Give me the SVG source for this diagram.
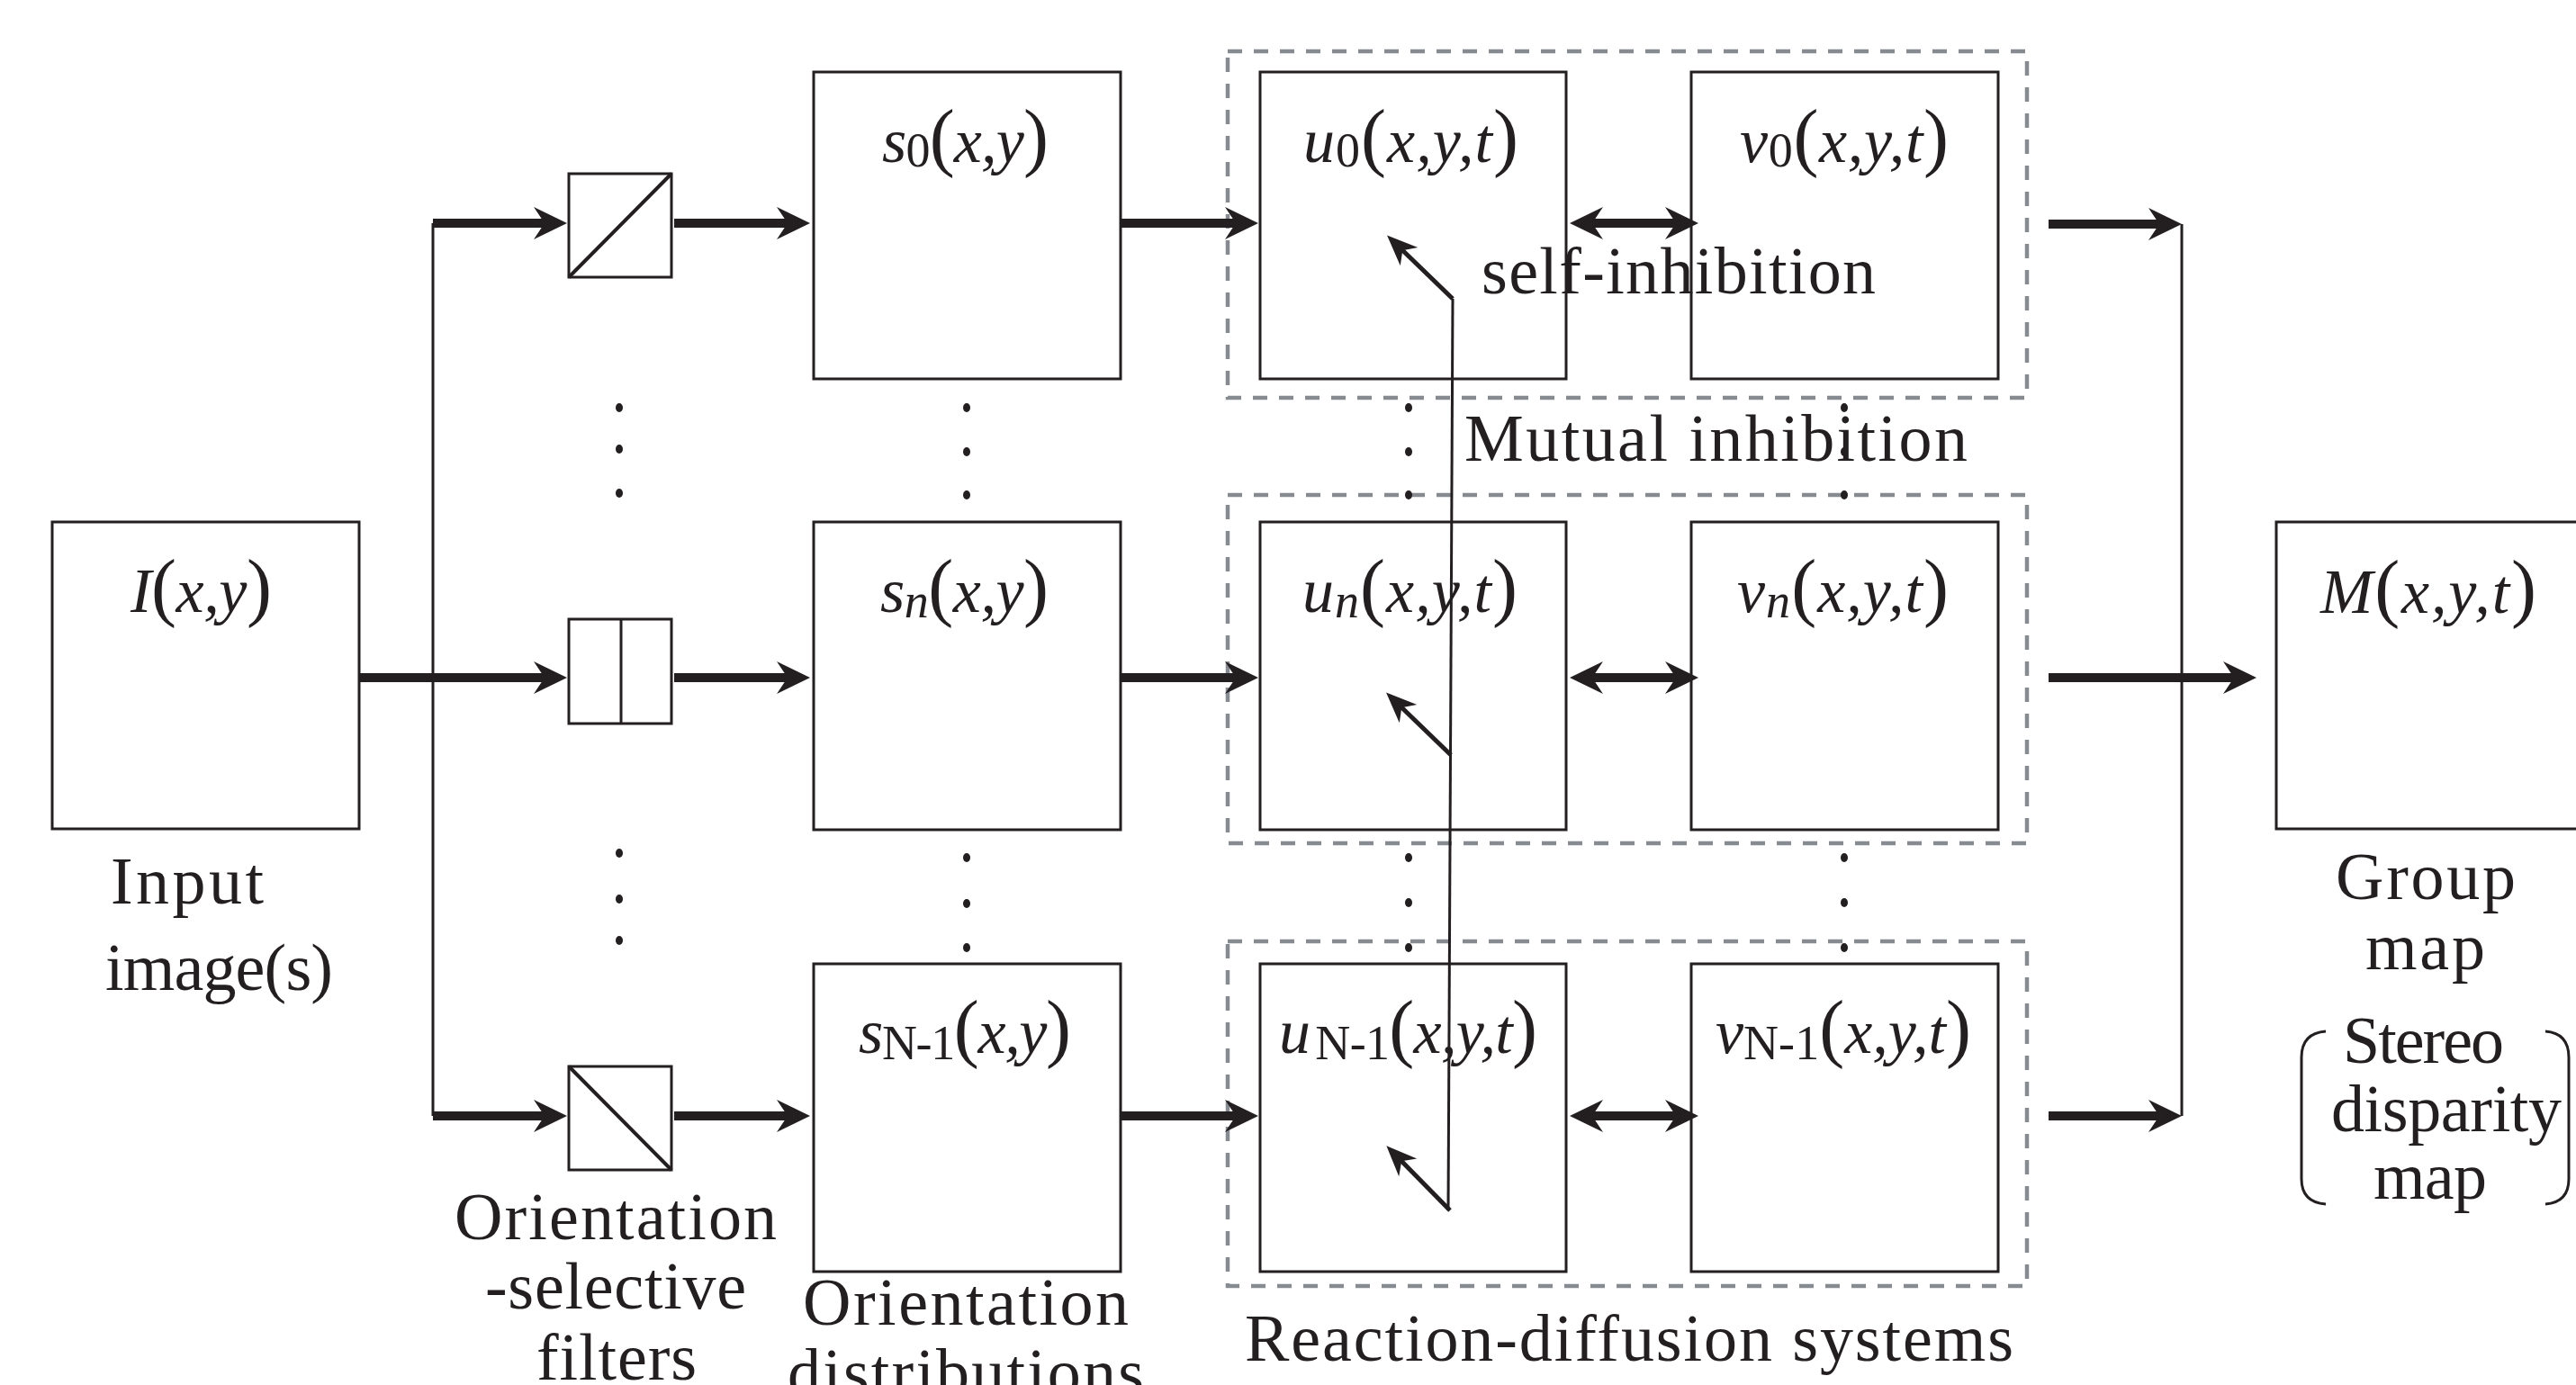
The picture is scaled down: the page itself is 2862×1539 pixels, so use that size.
<svg xmlns="http://www.w3.org/2000/svg" width="2862" height="1539" viewBox="0 0 2862 1539">
<style>
.box{fill:#fff;stroke:#231f20;stroke-width:3}
.dash{fill:none;stroke:#858b91;stroke-width:4.5;stroke-dasharray:16 13}
.thick{fill:none;stroke:#231f20;stroke-width:10}
.thin{fill:none;stroke:#231f20;stroke-width:3}
.si{fill:none;stroke:#231f20;stroke-width:5}
.t{font-family:"Liberation Serif","Times New Roman",serif;font-size:74px;fill:#231f20}
.m{font-family:"Liberation Serif","Times New Roman",serif;font-size:70px;font-style:italic;fill:#231f20}
.sub{font-size:54px;font-style:normal}
.subi{font-size:54px;font-style:italic}
.p{font-size:84px;font-style:normal}
.dot{fill:#231f20}
</style>
<defs>
<marker id="ah" viewBox="0 0 40 40" markerWidth="40" markerHeight="40" refX="20" refY="20" orient="auto-start-reverse" markerUnits="userSpaceOnUse">
<path d="M40,20 L3,2 L15,20 L3,38 Z" fill="#231f20"/>
</marker>
<marker id="ah2" viewBox="0 0 36 30" markerWidth="36" markerHeight="30" refX="18" refY="15" orient="auto" markerUnits="userSpaceOnUse">
<path d="M36,15 L2,1 L12,15 L2,29 Z" fill="#231f20"/>
</marker>
</defs>
<rect width="2862" height="1539" fill="#fff"/>

<g id="rd-groups">
<rect id="rd0" class="dash" x="1364" y="57" width="888" height="385"/>
<rect id="rd1" class="dash" x="1364" y="550" width="888" height="387"/>
<rect id="rd2" class="dash" x="1364" y="1046" width="888" height="383"/>
</g>

<g id="n-I">
<rect class="box" x="58" y="580" width="341" height="341"/>
<text class="m" x="145" y="680" textLength="157">I<tspan class="p">(</tspan>x,y<tspan class="p">)</tspan></text>
<text class="t" x="123" y="1004" textLength="170">Input</text>
<text class="t" x="117" y="1100" textLength="253">image(s)</text>
</g>

<g id="n-f0">
<rect class="box" x="632" y="193" width="114" height="115"/>
<line x1="632" y1="308" x2="746" y2="193" stroke="#231f20" stroke-width="4"/>
</g>
<g id="n-f1">
<rect class="box" x="632" y="688" width="114" height="116"/>
<line x1="690" y1="688" x2="690" y2="804" stroke="#231f20" stroke-width="3"/>
</g>
<g id="n-f2">
<rect class="box" x="632" y="1185" width="114" height="115"/>
<line x1="632" y1="1185" x2="746" y2="1300" stroke="#231f20" stroke-width="4"/>
</g>
<g id="lbl-filters">
<text class="t" x="505" y="1377" textLength="358">Orientation</text>
<text class="t" x="539" y="1454" textLength="290">-selective</text>
<text class="t" x="596" y="1533" textLength="178">filters</text>
</g>

<g id="n-s0">
<rect class="box" x="904" y="80" width="341" height="341"/>
<text class="m" x="980" y="180" textLength="185">s<tspan class="sub" dy="5">0</tspan><tspan class="p" dy="-5">(</tspan>x,y<tspan class="p">)</tspan></text>
</g>
<g id="n-sn">
<rect class="box" x="904" y="580" width="341" height="342"/>
<text class="m" x="978" y="680" textLength="187">s<tspan class="subi" dy="6">n</tspan><tspan class="p" dy="-6">(</tspan>x,y<tspan class="p">)</tspan></text>
</g>
<g id="n-sN">
<rect class="box" x="904" y="1071" width="341" height="342"/>
<text class="m" x="954" y="1170" textLength="236">s<tspan class="sub" dy="7">N-1</tspan><tspan class="p" dy="-7">(</tspan>x,y<tspan class="p">)</tspan></text>
</g>
<g id="lbl-dist">
<text class="t" x="892" y="1472" textLength="362">Orientation</text>
<text class="t" x="875" y="1550" textLength="396">distributions</text>
</g>

<g id="n-u0">
<rect class="box" x="1400" y="80" width="340" height="341"/>
<text class="m" x="1448" y="180" textLength="239">u<tspan class="sub" dy="5">0</tspan><tspan class="p" dy="-5">(</tspan>x,y,t<tspan class="p">)</tspan></text>
</g>
<g id="n-un">
<rect class="box" x="1400" y="580" width="340" height="342"/>
<text class="m" x="1447" y="680" textLength="239">u<tspan class="subi" dy="6">n</tspan><tspan class="p" dy="-6">(</tspan>x,y,t<tspan class="p">)</tspan></text>
</g>
<g id="n-uN">
<rect class="box" x="1400" y="1071" width="340" height="342"/>
<text class="m" x="1421" y="1170" textLength="287">u<tspan class="sub" dx="6" dy="7">N-1</tspan><tspan class="p" dy="-7">(</tspan>x,y,t<tspan class="p">)</tspan></text>
</g>

<g id="n-v0">
<rect class="box" x="1879" y="80" width="341" height="341"/>
<text class="m" x="1933" y="180" textLength="232">v<tspan class="sub" dy="5">0</tspan><tspan class="p" dy="-5">(</tspan>x,y,t<tspan class="p">)</tspan></text>
</g>
<g id="n-vn">
<rect class="box" x="1879" y="580" width="341" height="342"/>
<text class="m" x="1930" y="680" textLength="235">v<tspan class="subi" dy="6">n</tspan><tspan class="p" dy="-6">(</tspan>x,y,t<tspan class="p">)</tspan></text>
</g>
<g id="n-vN">
<rect class="box" x="1879" y="1071" width="341" height="342"/>
<text class="m" x="1906" y="1170" textLength="284">v<tspan class="sub" dy="7">N-1</tspan><tspan class="p" dy="-7">(</tspan>x,y,t<tspan class="p">)</tspan></text>
</g>
<g id="lbl-rd">
<text class="t" x="1383" y="1512" textLength="854">Reaction-diffusion systems</text>
</g>

<g id="n-M">
<rect class="box" x="2529" y="580" width="400" height="341"/>
<text class="m" x="2578" y="681" textLength="240">M<tspan class="p">(</tspan>x,y,t<tspan class="p">)</tspan></text>
<text class="t" x="2595" y="999" textLength="200">Group</text>
<text class="t" x="2628" y="1077" textLength="133">map</text>
<text class="t" x="2603" y="1181" textLength="179" font-size="68">Stereo</text>
<text class="t" x="2590" y="1257" textLength="256" font-size="68">disparity</text>
<text class="t" x="2637" y="1332" textLength="126" font-size="68">map</text>
<path class="thin" d="M2584,1146 Q2557,1148 2557,1175 L2557,1310 Q2557,1336 2584,1338" stroke-width="2.5"/>
<path class="thin" d="M2828,1146 Q2854,1148 2854,1175 L2854,1310 Q2854,1336 2828,1338" stroke-width="2.5"/>
</g>

<g id="dots">
<ellipse class="dot" cx="688" cy="453" rx="4" ry="5"/><ellipse class="dot" cx="688" cy="499" rx="4" ry="5"/><ellipse class="dot" cx="688" cy="548" rx="4" ry="5"/>
<ellipse class="dot" cx="688" cy="948" rx="4" ry="5"/><ellipse class="dot" cx="688" cy="999" rx="4" ry="5"/><ellipse class="dot" cx="688" cy="1045" rx="4" ry="5"/>
<ellipse class="dot" cx="1074" cy="453" rx="4" ry="5"/><ellipse class="dot" cx="1074" cy="502" rx="4" ry="5"/><ellipse class="dot" cx="1074" cy="550" rx="4" ry="5"/>
<ellipse class="dot" cx="1074" cy="953" rx="4" ry="5"/><ellipse class="dot" cx="1074" cy="1004" rx="4" ry="5"/><ellipse class="dot" cx="1074" cy="1053" rx="4" ry="5"/>
<ellipse class="dot" cx="1565" cy="453" rx="4" ry="5"/><ellipse class="dot" cx="1565" cy="502" rx="4" ry="5"/><ellipse class="dot" cx="1565" cy="550" rx="4" ry="5"/>
<ellipse class="dot" cx="1565" cy="953" rx="4" ry="5"/><ellipse class="dot" cx="1565" cy="1003" rx="4" ry="5"/><ellipse class="dot" cx="1565" cy="1053" rx="4" ry="5"/>
<ellipse class="dot" cx="2049" cy="453" rx="4" ry="5"/><ellipse class="dot" cx="2049" cy="502" rx="4" ry="5"/><ellipse class="dot" cx="2049" cy="550" rx="4" ry="5"/>
<ellipse class="dot" cx="2049" cy="953" rx="4" ry="5"/><ellipse class="dot" cx="2049" cy="1003" rx="4" ry="5"/><ellipse class="dot" cx="2049" cy="1053" rx="4" ry="5"/>
</g>

<g id="lbl-inhibition">
<text class="t" x="1646" y="326" textLength="438">self-inhibition</text>
<text class="t" x="1627" y="512" textLength="559">Mutual inhibition</text>
</g>

<g id="connectors">
<line class="thin" x1="481" y1="248" x2="481" y2="1240"/>
<line class="thick" x1="399" y1="753" x2="610" y2="753" marker-end="url(#ah)"/>
<line class="thick" x1="481" y1="248" x2="610" y2="248" marker-end="url(#ah)"/>
<line class="thick" x1="481" y1="1240" x2="610" y2="1240" marker-end="url(#ah)"/>
<line class="thick" x1="749" y1="248" x2="880" y2="248" marker-end="url(#ah)"/>
<line class="thick" x1="749" y1="753" x2="880" y2="753" marker-end="url(#ah)"/>
<line class="thick" x1="749" y1="1240" x2="880" y2="1240" marker-end="url(#ah)"/>
<line class="thick" x1="1245" y1="248" x2="1378" y2="248" marker-end="url(#ah)"/>
<line class="thick" x1="1245" y1="753" x2="1378" y2="753" marker-end="url(#ah)"/>
<line class="thick" x1="1245" y1="1240" x2="1378" y2="1240" marker-end="url(#ah)"/>
<line class="thick" x1="1764" y1="248" x2="1867" y2="248" marker-start="url(#ah)" marker-end="url(#ah)"/>
<line class="thick" x1="1764" y1="753" x2="1867" y2="753" marker-start="url(#ah)" marker-end="url(#ah)"/>
<line class="thick" x1="1764" y1="1240" x2="1867" y2="1240" marker-start="url(#ah)" marker-end="url(#ah)"/>
<line class="thick" x1="2276" y1="249" x2="2404" y2="249" marker-end="url(#ah)"/>
<line class="thick" x1="2276" y1="1240" x2="2404" y2="1240" marker-end="url(#ah)"/>
<line class="thin" x1="2424" y1="249" x2="2424" y2="1240"/>
<line class="thick" x1="2276" y1="753" x2="2487" y2="753" marker-end="url(#ah)"/>
<line class="thin" x1="1614" y1="332" x2="1609" y2="1345" stroke-width="2.5"/>
<line class="si" x1="1614" y1="332" x2="1554" y2="274" marker-end="url(#ah2)"/>
<line class="si" x1="1612" y1="839" x2="1553" y2="782" marker-end="url(#ah2)"/>
<line class="si" x1="1611" y1="1345" x2="1553" y2="1286" marker-end="url(#ah2)"/>
</g>
</svg>
